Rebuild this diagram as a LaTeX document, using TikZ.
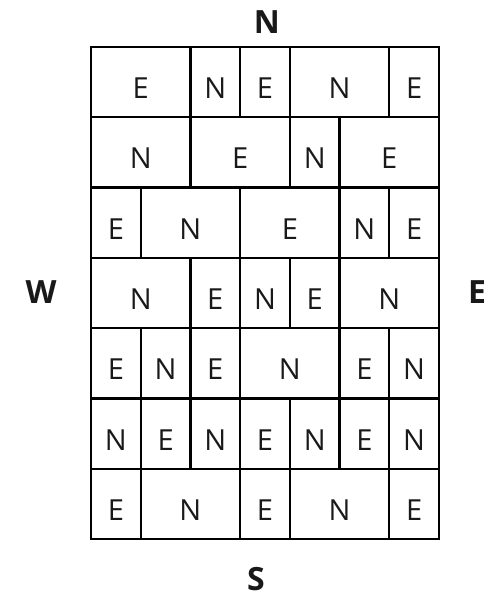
\documentclass[tikz,border=0pt]{standalone}
\usepackage{fontspec}
\setmainfont{Open Sans}
\newcommand\gcell[5]{% name, row, startcol, span, letter
  \node[cell, minimum width={#4*49.714pt}] (#1)
    at ({91+49.714*(#3+#4/2)}, {47+70.286*(#2+0.5)}) {#5};}
\tikzset{
  cell/.style={draw, line width=2.4pt, minimum height=70.286pt, inner sep=0pt,
    text height=33pt, text depth=0pt, text=black!90,
    font=\fontsize{29}{30}\selectfont},
  compass/.style={anchor=base, inner sep=0pt, text=black!90,
    font=\fontsize{32}{34}\selectfont\bfseries}
}
\begin{document}
\begin{tikzpicture}[x=1pt,y=-1pt]
\useasboundingbox (0,0) rectangle (492,598);
% row 1
\gcell{a1}{0}{0}{2}{E}
\gcell{a2}{0}{2}{1}{N}
\gcell{a3}{0}{3}{1}{E}
\gcell{a4}{0}{4}{2}{N}
\gcell{a5}{0}{6}{1}{E}
% row 2
\gcell{b1}{1}{0}{2}{N}
\gcell{b2}{1}{2}{2}{E}
\gcell{b3}{1}{4}{1}{N}
\gcell{b4}{1}{5}{2}{E}
% row 3
\gcell{c1}{2}{0}{1}{E}
\gcell{c2}{2}{1}{2}{N}
\gcell{c3}{2}{3}{2}{E}
\gcell{c4}{2}{5}{1}{N}
\gcell{c5}{2}{6}{1}{E}
% row 4
\gcell{d1}{3}{0}{2}{N}
\gcell{d2}{3}{2}{1}{E}
\gcell{d3}{3}{3}{1}{N}
\gcell{d4}{3}{4}{1}{E}
\gcell{d5}{3}{5}{2}{N}
% row 5
\gcell{e1}{4}{0}{1}{E}
\gcell{e2}{4}{1}{1}{N}
\gcell{e3}{4}{2}{1}{E}
\gcell{e4}{4}{3}{2}{N}
\gcell{e5}{4}{5}{1}{E}
\gcell{e6}{4}{6}{1}{N}
% row 6
\gcell{f1}{5}{0}{1}{N}
\gcell{f2}{5}{1}{1}{E}
\gcell{f3}{5}{2}{1}{N}
\gcell{f4}{5}{3}{1}{E}
\gcell{f5}{5}{4}{1}{N}
\gcell{f6}{5}{5}{1}{E}
\gcell{f7}{5}{6}{1}{N}
% row 7
\gcell{g1}{6}{0}{1}{E}
\gcell{g2}{6}{1}{2}{N}
\gcell{g3}{6}{3}{1}{E}
\gcell{g4}{6}{4}{2}{N}
\gcell{g5}{6}{6}{1}{E}
% compass
\node[compass] (north) at (267,33) {N};
\node[compass] (south) at (256,590) {S};
\node[compass] (west) at (41,303) {W};
\node[compass] (east) at (477,303) {E};
\end{tikzpicture}
\end{document}
